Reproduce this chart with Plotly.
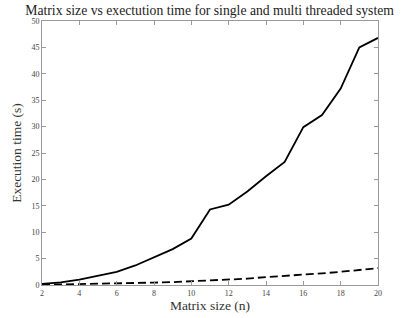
import plotly.graph_objects as go

matrix_size = list(range(2, 21))
single_thread = [0.2, 0.5, 1.0, 1.7, 2.5, 3.7, 5.2, 6.8, 8.8, 14.3, 15.2, 17.7,
                 20.6, 23.3, 29.9, 32.2, 37.2, 45.0, 46.8]
multi_thread = [0.05, 0.1, 0.15, 0.2, 0.25, 0.35, 0.45, 0.55, 0.7, 0.9, 1.05, 1.2,
                1.5, 1.7, 1.9, 2.2, 2.5, 2.9, 3.2]
x_ticks = list(range(2, 21, 2))
y_ticks = list(range(0, 51, 5))

font_family = "Liberation Serif, DejaVu Serif, serif"

fig = go.Figure()
fig.add_trace(go.Scatter(x=matrix_size, y=single_thread, mode="lines",
                         line=dict(color="black", width=1.8, dash="solid"),
                         name="Single threaded"))
fig.add_trace(go.Scatter(x=matrix_size, y=multi_thread, mode="lines",
                         line=dict(color="black", width=1.8, dash="8px,4px"),
                         name="Multi threaded"))

axis_common = dict(showgrid=False, zeroline=False, showline=True, mirror="ticks",
                   linecolor="#999999", linewidth=1, ticks="inside", ticklen=4,
                   tickcolor="#999999", automargin=False,
                   tickfont=dict(size=8, color="#444444", family=font_family))

fig.update_layout(
    width=411, height=318,
    margin=dict(l=42, r=33, t=21, b=33),
    plot_bgcolor="white", paper_bgcolor="white",
    showlegend=False,
    font=dict(family=font_family, color="#222222"),
    title=dict(text="Matrix size vs exectution time for single and multi threaded system",
               x=0.51, xanchor="center", y=0.968, yanchor="middle",
               font=dict(size=13.7, color="#222222", family=font_family)),
    xaxis=dict(range=[2, 20], tickvals=x_ticks,
               title=dict(text="Matrix size (n)", font=dict(size=13.5, color="#333333"), standoff=0),
               **axis_common),
    yaxis=dict(range=[0, 50], tickvals=y_ticks,
               title=dict(text="Execution time (s)", font=dict(size=13.5, color="#333333"), standoff=6),
               **axis_common),
)

fig.write_html("out.html", config={"displayModeBar": False},
               post_script="document.body.style.margin='0';document.body.style.overflow='hidden';")
